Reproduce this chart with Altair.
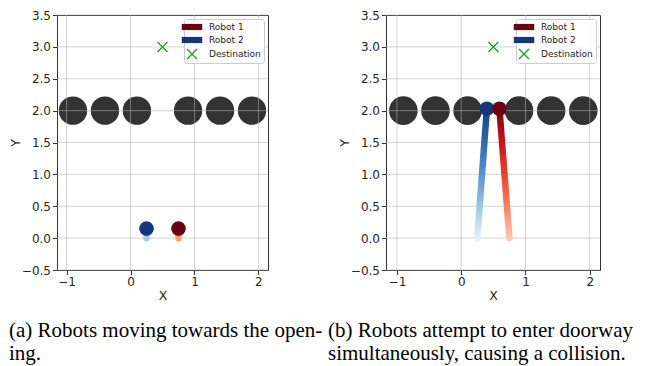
import altair as alt
import pandas as pd

# ---------------- data ----------------
OBSTACLE_X = [-0.9, -0.4, 0.1, 0.9, 1.4, 1.9]
OBSTACLE_Y = [2.0, 2.0, 2.0, 2.0, 2.0, 2.0]
DEST_X = [0.5]
DEST_Y = [3.0]

# panel (a): trajectories (start -> current position)
A_R1_X = [0.75, 0.75]
A_R1_Y = [0.0, 0.15]
A_R2_X = [0.25, 0.25]
A_R2_Y = [0.0, 0.15]

# panel (b)
B_R1_X = [0.75, 0.595]
B_R1_Y = [0.0, 2.03]
B_R2_X = [0.25, 0.40]
B_R2_Y = [0.0, 2.03]

X_TICKS = [-1, 0, 1, 2]
Y_TICKS = [-0.5, 0.0, 0.5, 1.0, 1.5, 2.0, 2.5, 3.0, 3.5]
X_DOMAIN_A = [-1.15, 2.15]
X_DOMAIN_B = [-1.17, 2.16]
Y_DOMAIN = [-0.5, 3.5]

LEGEND_LABELS = ["Robot 1", "Robot 2", "Destination"]
CAPTION_A = ["(a) Robots moving towards the open-", "ing."]
CAPTION_B = ["(b) Robots attempt to enter doorway", "simultaneously, causing a collision."]

# ---------------- styles ----------------
RED_DARK = "#6a0012"
BLUE_DARK = "#15367a"
GREEN = "#2ca02c"
RECT_PATH = "M-2.05,-0.62H2.05V0.62H-2.05Z"
a, d = 1.1, 0.2
X_PATH = (f"M{-a},{-a+d}L{-a+d},{-a}L0,{-d}L{a-d},{-a}L{a},{-a+d}L{d},0"
          f"L{a},{a-d}L{a-d},{a}L0,{d}L{-a+d},{a}L{-a},{a-d}L{-d},0Z")

BLUE_GRAD = alt.Gradient(
    gradient="linear", x1=0, x2=0, y1=1, y2=0,
    stops=[alt.GradientStop(color="#e6f0fa", offset=0),
           alt.GradientStop(color="#9dc6e5", offset=0.25),
           alt.GradientStop(color="#5193cb", offset=0.5),
           alt.GradientStop(color="#2c69ad", offset=0.75),
           alt.GradientStop(color="#133e84", offset=1)])
RED_GRAD = alt.Gradient(
    gradient="linear", x1=0, x2=0, y1=1, y2=0,
    stops=[alt.GradientStop(color="#fdc6ae", offset=0),
           alt.GradientStop(color="#f6825e", offset=0.25),
           alt.GradientStop(color="#e8402d", offset=0.5),
           alt.GradientStop(color="#bd161d", offset=0.75),
           alt.GradientStop(color="#760511", offset=1)])


def panel(r1x, r1y, r2x, r2y, xdom, width, height, obs_size, gradient, caption, dx):
    xs = alt.Scale(domain=xdom, nice=False, zero=False)
    ys = alt.Scale(domain=Y_DOMAIN, nice=False, zero=False)
    xax = alt.Axis(values=X_TICKS, format="d", title="X", titlePadding=2,
                   labelOverlap=False)
    yax = alt.Axis(values=Y_TICKS, format=".1f", title="Y", titlePadding=0,
                   minExtent=35, maxExtent=35, labelOverlap=False)
    X = alt.X("x:Q", scale=xs, axis=xax)
    Y = alt.Y("y:Q", scale=ys, axis=yax)

    obs = alt.Chart(pd.DataFrame({"x": OBSTACLE_X, "y": OBSTACLE_Y})).mark_circle(
        size=obs_size, color="#333333", opacity=1).encode(x=X, y=Y)
    gx = alt.Chart(pd.DataFrame({"x": X_TICKS})).mark_rule(
        color="#b0b0b0", opacity=0.55, strokeWidth=1).encode(x=X)
    gy = alt.Chart(pd.DataFrame({"y": Y_TICKS})).mark_rule(
        color="#b0b0b0", opacity=0.55, strokeWidth=1).encode(y=Y)

    t1 = pd.DataFrame({"x": r1x, "y": r1y, "i": [0, 1]})
    t2 = pd.DataFrame({"x": r2x, "y": r2y, "i": [0, 1]})
    if gradient:
        tr2 = alt.Chart(t2).mark_line(stroke=BLUE_GRAD, strokeWidth=6.5, strokeCap="round")
        tr1 = alt.Chart(t1).mark_line(stroke=RED_GRAD, strokeWidth=6.5, strokeCap="round")
    else:
        tr2 = alt.Chart(t2).mark_line(color="#a9cde8", strokeWidth=6.5, strokeCap="round")
        tr1 = alt.Chart(t1).mark_line(color="#fb9a7a", strokeWidth=6.5, strokeCap="round")
    tr2 = tr2.encode(x=X, y=Y, order="i:Q")
    tr1 = tr1.encode(x=X, y=Y, order="i:Q")

    rb2 = alt.Chart(pd.DataFrame({"x": r2x[-1:], "y": r2y[-1:]})).mark_circle(
        size=215, color=BLUE_DARK, opacity=1).encode(x=X, y=Y)
    rb1 = alt.Chart(pd.DataFrame({"x": r1x[-1:], "y": r1y[-1:]})).mark_circle(
        size=215, color=RED_DARK, opacity=1).encode(x=X, y=Y)

    dest = alt.Chart(pd.DataFrame({"x": DEST_X, "y": DEST_Y, "label": ["Destination"]})).mark_point(
        filled=True, size=100, opacity=1, strokeWidth=0).encode(
        x=X, y=Y,
        color=alt.Color("label:N", scale=alt.Scale(domain=LEGEND_LABELS,
                                                   range=[RED_DARK, BLUE_DARK, GREEN]),
                        legend=alt.Legend(title=None)),
        shape=alt.Shape("label:N", scale=alt.Scale(domain=LEGEND_LABELS,
                                                   range=[RECT_PATH, RECT_PATH, X_PATH]),
                        legend=alt.Legend(title=None)),
    )

    return alt.layer(obs, gx, gy, tr2, tr1, rb2, rb1, dest).properties(
        width=width, height=height,
        title=alt.TitleParams(caption, orient="bottom", anchor="start",
                              font="Liberation Serif", fontSize=21,
                              fontWeight="normal", color="black",
                              lineHeight=23, offset=18, dx=dx),
    )


pa = panel(A_R1_X, A_R1_Y, A_R2_X, A_R2_Y, X_DOMAIN_A, 211, 255, 804, False, CAPTION_A, 0)
pb = panel(B_R1_X, B_R1_Y, B_R2_X, B_R2_Y, X_DOMAIN_B, 214, 255, 815, True, CAPTION_B, -10)

chart = alt.hconcat(pa, pb, spacing=118, bounds="flush", padding=0).resolve_scale(
    color="independent", shape="independent"
).configure(background="white").configure_view(
    stroke="#333333", strokeWidth=1
).configure_axis(
    grid=False, domain=False, labelOverlap=False,
    labelFont="DejaVu Sans", labelFontSize=12, labelColor="#262626",
    titleFont="DejaVu Sans", titleFontSize=12.5, titleFontWeight="normal",
    titleColor="#262626", tickColor="#333333", tickSize=4.5, labelPadding=2,
).configure_legend(
    orient="top-right", offset=4, padding=3,
    labelFont="DejaVu Sans", labelFontSize=9, labelColor="#222222",
    symbolSize=100, symbolStrokeWidth=0, labelOffset=12, rowPadding=3,
    strokeColor="#cccccc", fillColor="rgba(255,255,255,0.85)", cornerRadius=3,
    symbolOpacity=1,
)

chart.save("out.html", embed_options={"renderer": "svg", "actions": False})
